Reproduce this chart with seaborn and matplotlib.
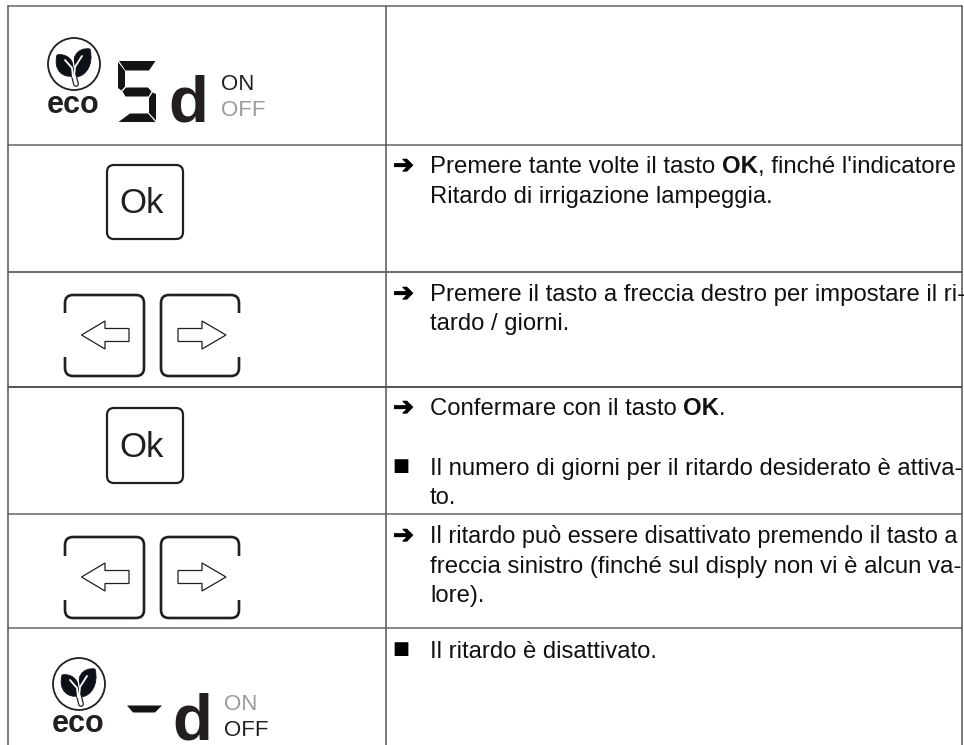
import numpy as np
import pandas as pd
import matplotlib
matplotlib.use("Agg")
import matplotlib.pyplot as plt
import matplotlib.patheffects as pe
import seaborn as sns
from matplotlib.patches import Circle, FancyBboxPatch, Polygon, PathPatch
from matplotlib.path import Path

# ---- content -------------------------------------------------------------
instruction_lines = [
    [("Premere tante volte il tasto ", False), ("OK", True), (", finché l'indicatore", False)],
    [("Ritardo di irrigazione lampeggia.", False)],
    [("Premere il tasto a freccia destro per impostare il ri-", False)],
    [("tardo / giorni.", False)],
    [("Confermare con il tasto ", False), ("OK", True), (".", False)],
    [("Il numero di giorni per il ritardo desiderato è attiva-", False)],
    [("to.", False)],
    [("Il ritardo può essere disattivato premendo il tasto a", False)],
    [("freccia sinistro (finché sul disply non vi è alcun va-", False)],
    [("lore).", False)],
    [("Il ritardo è disattivato.", False)],
]
instruction_baselines = [173, 203, 301, 330, 415, 475, 504, 543, 573, 602, 658]
instruction_sizes = [17.25, 17.2, 17.2, 17.2, 17.2, 17.2, 17.2, 16.9, 17.25, 17.2, 17.2]
bullet_marks = ["➔", "➔", "➔", "■", "➔", "■"]
bullet_baselines = [173, 301, 415, 475, 543, 658]
row_rules = [6, 145, 271.5, 386.5, 514, 628]
col_rules = [8, 386, 962]
rule_colours = ["#666666", "#666666", "#444444", "#222222", "#666666", "#666666"]

INK = "#231f20"
GREY = "#9a9a9a"
FONT = "Liberation Sans"

sns.set_theme(style="white")
plt.rcParams["font.family"] = [FONT, "DejaVu Sans"]

fig = plt.figure(figsize=(9.64, 7.45), dpi=100)
ax = fig.add_axes([0, 0, 1, 1])

# ---- table rules, through seaborn ----------------------------------------
for y, c in zip(row_rules, rule_colours):
    df = pd.DataFrame({"x": [col_rules[0], col_rules[-1]], "y": [y, y]})
    sns.lineplot(data=df, x="x", y="y", estimator=None, sort=False, color=c, lw=1.1, ax=ax)
for x in col_rules:
    df = pd.DataFrame({"x": [x, x], "y": [row_rules[0], 745]})
    sns.lineplot(data=df, x="x", y="y", estimator=None, sort=False, color="#555555", lw=1.1, ax=ax)

ax.set_xlim(0, 964)
ax.set_ylim(745, 0)
ax.axis("off")

# ---- text ----------------------------------------------------------------
fig.canvas.draw()
rend = fig.canvas.get_renderer()


def advance(s, bold, size):
    t = ax.text(0, 0, s + ".", fontsize=size, family=FONT, weight="bold" if bold else "normal")
    w1 = t.get_window_extent(rend).width
    t.set_text(".")
    w2 = t.get_window_extent(rend).width
    t.remove()
    return w1 - w2


for parts, base, size in zip(instruction_lines, instruction_baselines, instruction_sizes):
    x = 430.0
    for s, bold in parts:
        ax.text(x, base, s, fontsize=size, family=FONT, color="#111111",
                weight="bold" if bold else "normal", va="baseline", ha="left")
        x += advance(s, bold, size)

for m, base in zip(bullet_marks, bullet_baselines):
    if m == "■":
        ax.text(400.5, base - 4, m, fontsize=13, family="DejaVu Sans", color="black",
                va="baseline", ha="center")
    else:
        ax.text(403.5, base, m, fontsize=18, family="DejaVu Sans", color="black",
                weight="bold", va="baseline", ha="center",
                path_effects=[pe.withStroke(linewidth=0.7, foreground="black")])


# ---- icons ---------------------------------------------------------------
def leaf(cx, cy, tip, base, bulge):
    tx, ty = cx + tip[0], cy + tip[1]
    bx, by = cx + base[0], cy + base[1]
    verts = [(bx, by),
             (cx + bulge[0][0], cy + bulge[0][1]), (cx + bulge[1][0], cy + bulge[1][1]), (tx, ty),
             (cx + bulge[2][0], cy + bulge[2][1]), (cx + bulge[3][0], cy + bulge[3][1]), (bx, by)]
    codes = [Path.MOVETO] + [Path.CURVE4] * 6
    ax.add_patch(PathPatch(Path(verts, codes), fc="#0d1017", ec="#0d1017", lw=0.6, zorder=4))


def badge(cx, cy):
    ax.add_patch(Circle((cx, cy), 26, fc="white", ec=INK, lw=1.3, zorder=3))
    leaf(cx, cy, (-17, -9), (-1, 12), [(-11, 14), (-21, 6), (-9, -11), (3, -5)])
    leaf(cx, cy, (16, -15), (1, 13), [(12, 13), (20, 0), (4, -17), (-5, -7)])
    for pts, w in (([(-1, 13), (-2, 4), (-9, -4)], 1.3),
                   ([(0, 13), (1, 3), (8, -8)], 1.3),
                   ([(0, 3), (-1, -6)], 0.9)):
        xs, ys = zip(*pts)
        ax.plot(np.array(xs) + cx, np.array(ys) + cy, color="white", lw=w, zorder=5,
                solid_capstyle="round")
    ax.plot([cx, cx + 2], [cy + 12, cy + 20], color=INK, lw=4.2, zorder=4, solid_capstyle="round")
    ax.plot([cx, cx + 2], [cy + 12, cy + 20], color="white", lw=2.4, zorder=5, solid_capstyle="round")


def eco(cx, base):
    ax.text(cx, base, "eco", fontsize=22, family=FONT, weight="bold", color=INK,
            ha="center", va="baseline")


def ok_key(y0, y1, base):
    ax.add_patch(FancyBboxPatch((107 + 7, y0 + 7), 76 - 14, (y1 - y0) - 14,
                                boxstyle="round,pad=7,rounding_size=7",
                                fc="none", ec=INK, lw=1.6))
    ax.text(141.5, base, "Ok", fontsize=25, family=FONT, color=INK, ha="center", va="baseline")


def bracket_key(x0, x1, y0, y1, g0, g1, open_side):
    r = 8
    if open_side == "left":
        v = [(x0, g0), (x0, y0 + r), (x0, y0), (x0 + r, y0), (x1 - r, y0), (x1, y0), (x1, y0 + r),
             (x1, y1 - r), (x1, y1), (x1 - r, y1), (x0 + r, y1), (x0, y1), (x0, y1 - r), (x0, g1)]
    else:
        v = [(x1, g0), (x1, y0 + r), (x1, y0), (x1 - r, y0), (x0 + r, y0), (x0, y0), (x0, y0 + r),
             (x0, y1 - r), (x0, y1), (x0 + r, y1), (x1 - r, y1), (x1, y1), (x1, y1 - r), (x1, g1)]
    c = [Path.MOVETO, Path.LINETO, Path.CURVE3, Path.CURVE3, Path.LINETO, Path.CURVE3, Path.CURVE3,
         Path.LINETO, Path.CURVE3, Path.CURVE3, Path.LINETO, Path.CURVE3, Path.CURVE3, Path.LINETO]
    ax.add_patch(PathPatch(Path(v, c), fc="none", ec=INK, lw=1.9, capstyle="butt"))


def key_pair(y0, y1, g0, g1, ym):
    bracket_key(65, 144, y0, y1, g0, g1, "left")
    bracket_key(161, 239, y0, y1, g0, g1, "right")
    ax.add_patch(Polygon([(81.5, ym), (105, ym - 14), (105, ym - 6.5), (129, ym - 6.5),
                          (129, ym + 6.5), (105, ym + 6.5), (105, ym + 14)],
                         fc="white", ec=INK, lw=0.9))
    ax.add_patch(Polygon([(226, ym), (202, ym - 14), (202, ym - 6.5), (178, ym - 6.5),
                          (178, ym + 6.5), (202, ym + 6.5), (202, ym + 14)],
                         fc="white", ec=INK, lw=0.9))


def big_d(x, base):
    ax.text(x, base, "d", fontsize=47, family=FONT, weight="bold", color=INK,
            ha="center", va="baseline")


def on_off(x, base_on, base_off, on_colour, off_colour):
    ax.text(x, base_on, "ON", fontsize=16, family=FONT, color=on_colour, ha="left", va="baseline")
    ax.text(x, base_off, "OFF", fontsize=16, family=FONT, color=off_colour, ha="left", va="baseline")


# row 1
badge(74, 64)
eco(73, 113)
seven_seg = [
    [(119, 61), (155.5, 61), (149, 70.5), (125.5, 70.5)],
    [(118, 62), (125, 71), (125, 86.5), (121.5, 90.5), (118, 88)],
    [(122.5, 91.5), (126, 87.5), (148, 87.5), (151.5, 91.5), (148.5, 96.5), (125.5, 96.5)],
    [(156, 94), (156, 120.5), (149, 113), (149, 98), (152.5, 92.5)],
    [(118.5, 122), (130, 113.5), (148, 113.5), (155.5, 122)],
]
for seg in seven_seg:
    ax.add_patch(Polygon(seg, fc="#141414", ec="none"))
big_d(188, 122)
on_off(220.5, 90, 116.5, INK, GREY)

# row 2
ok_key(165, 239, 213)
# row 3
key_pair(295, 376, 313, 357, 335)
# row 4
ok_key(408, 483, 457)
# row 5
key_pair(537, 618, 556, 600, 577)
# row 6
badge(79, 684)
eco(78, 732)
ax.add_patch(Polygon([(127, 705.5), (162, 705.5), (155, 712.5), (133, 712.5)], fc="#141414", ec="none"))
big_d(192.5, 740)
on_off(224, 710, 736, GREY, INK)

fig.savefig("out.png", dpi=100, facecolor="white")
